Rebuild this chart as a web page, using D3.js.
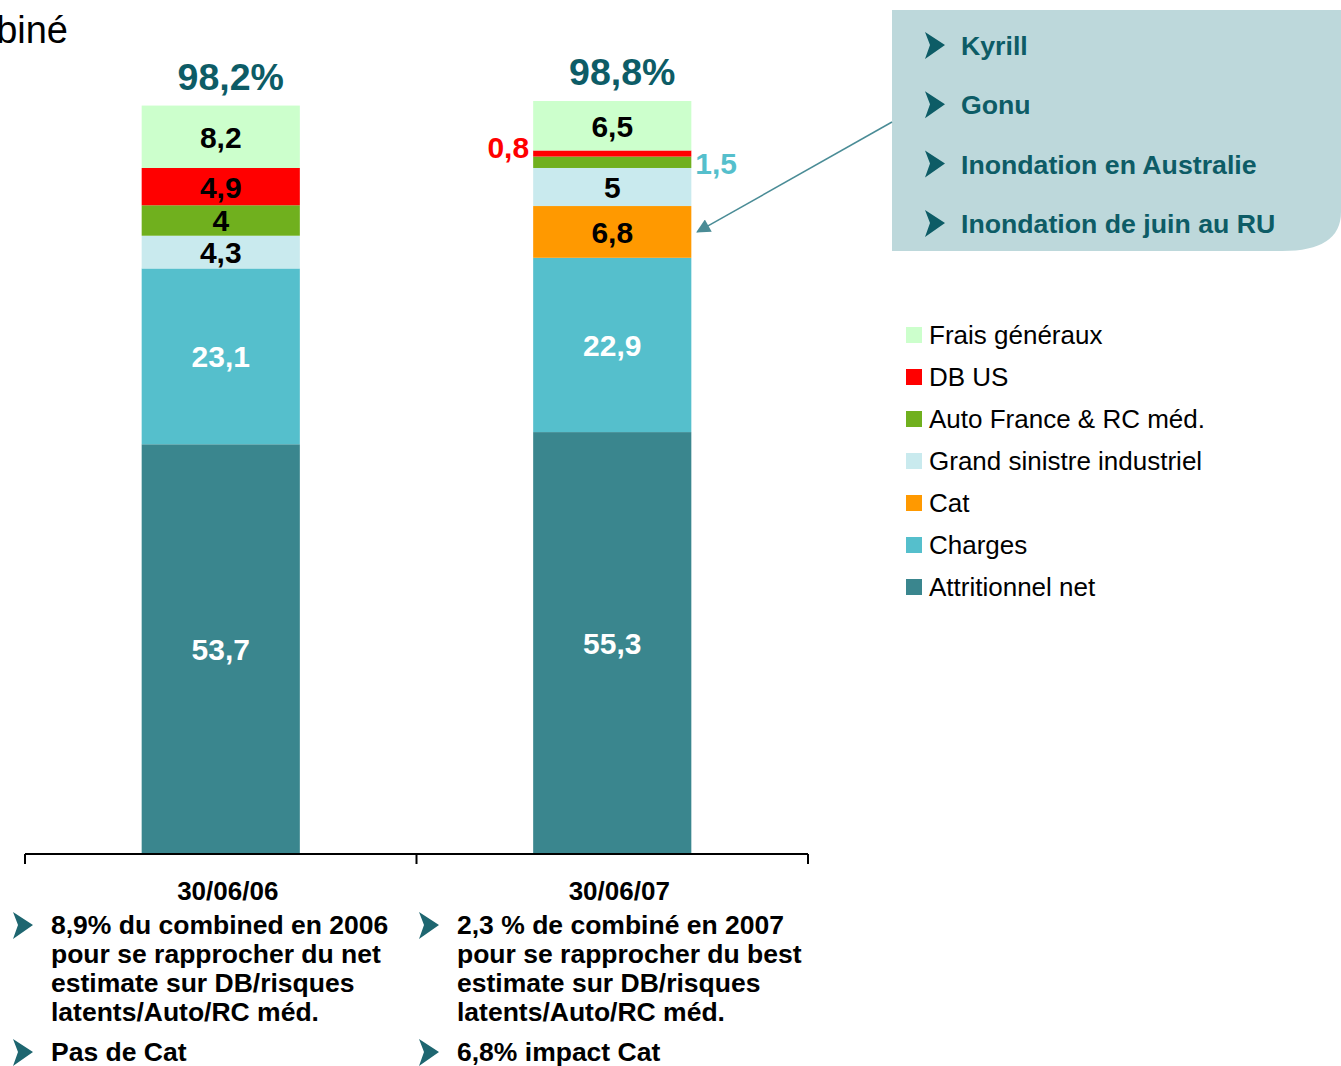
<!DOCTYPE html>
<html>
<head>
<meta charset="utf-8">
<script src="https://cdn.jsdelivr.net/npm/d3@7"></script>
<style>
  body { margin: 0; background: #fff; }
  svg { display: block; font-family: Arial, 'Liberation Sans', sans-serif; }
</style>
</head>
<body>
<div class="chart"></div>
<script>
const width = 1341,
	height = 1066

// data
const categories = ['30/06/06', '30/06/07']
const series = ['Attritionnel net', 'Charges', 'Cat', 'Grand sinistre industriel', 'Auto France & RC méd.', 'DB US', 'Frais généraux']
const values2006 = [53.7, 23.1, 0, 4.3, 4, 4.9, 8.2]
const values2007 = [55.3, 22.9, 6.8, 5, 1.5, 0.8, 6.5]
const totals = ['98,2%', '98,8%']
const catEvents = ['Kyrill', 'Gonu', 'Inondation en Australie', 'Inondation de juin au RU']
const notes2006 = [['8,9% du combined en 2006', 'pour se rapprocher du net', 'estimate sur DB/risques', 'latents/Auto/RC méd.'], ['Pas de Cat']]
const notes2007 = [['2,3 % de combiné en 2007', 'pour se rapprocher du best', 'estimate sur DB/risques', 'latents/Auto/RC méd.'], ['6,8% impact Cat']]

const colors = ['#3a868e', '#55bfcc', '#ff9900', '#c9eaee', '#70b01e', '#ff0000', '#ccffcc']
const labelColors = ['#fff', '#fff', '#000', '#000', '#000', '#000', '#000']
const teal = '#0d5c66'

const rows = categories.map((c, i) => {
	const vals = i === 0 ? values2006 : values2007
	const row = { cat: c }
	series.forEach((s, j) => (row[s] = vals[j]))
	return row
})
const stacked = d3.stack().keys(series)(rows)

const svg = d3.select('.chart').append('svg').attr('width', width).attr('height', height)

const x = d3.scaleBand().domain(categories).range([25, 808]).paddingInner(0.596).paddingOuter(0.298)
const y = d3.scaleLinear().domain([0, 98.8]).range([853, 101])

// title fragment (cut at the left edge)
svg.append('text')
	.attr('x', 68)
	.attr('y', 43)
	.attr('text-anchor', 'end')
	.style('font-size', '38px')
	.style('fill', '#000')
	.text('biné')

// bars
const layer = svg.selectAll('g.layer')
	.data(stacked)
	.enter()
	.append('g')
	.attr('class', 'layer')
	.attr('fill', (d, i) => colors[i])

layer.selectAll('rect')
	.data(d => d)
	.enter()
	.append('rect')
	.attr('x', d => x(d.data.cat))
	.attr('y', d => y(d[1]))
	.attr('width', x.bandwidth())
	.attr('height', d => y(d[0]) - y(d[1]))

// segment labels
stacked.forEach((s, i) => {
	s.forEach(d => {
		const v = d.data[s.key]
		if (v === 0) return
		const txt = String(v).replace('.', ',')
		const mid = (y(d[0]) + y(d[1])) / 2
		if (v >= 2) {
			svg.append('text')
				.attr('x', x(d.data.cat) + x.bandwidth() / 2)
				.attr('y', mid + 11)
				.attr('text-anchor', 'middle')
				.style('font-size', '30px')
				.style('font-weight', 'bold')
				.style('fill', labelColors[i])
				.text(txt)
		} else {
			// small segments labelled beside the bar
			const left = s.key === 'DB US'
			svg.append('text')
				.attr('x', left ? x(d.data.cat) - 4 : x(d.data.cat) + x.bandwidth() + 4)
				.attr('y', left ? mid + 4 : mid + 12)
				.attr('text-anchor', left ? 'end' : 'start')
				.style('font-size', '30px')
				.style('font-weight', 'bold')
				.style('fill', left ? '#ff0000' : '#55bfcc')
				.text(txt)
		}
	})
})

// totals
rows.forEach((r, i) => {
	const top = stacked[stacked.length - 1][i][1]
	svg.append('text')
		.attr('x', x(r.cat) + x.bandwidth() / 2 + 10)
		.attr('y', y(top) - 16)
		.attr('text-anchor', 'middle')
		.style('font-size', '37.5px')
		.style('font-weight', 'bold')
		.style('fill', teal)
		.text(totals[i])
})

// axis
const axisY = y(0) + 1
const axis = svg.append('g').attr('stroke', '#000').attr('stroke-width', 2)
axis.append('line').attr('x1', x.range()[0]).attr('x2', x.range()[1]).attr('y1', axisY).attr('y2', axisY)
d3.range(categories.length + 1).forEach(k => {
	const tx = x.range()[0] + k * x.step()
	axis.append('line').attr('x1', tx).attr('x2', tx).attr('y1', axisY).attr('y2', axisY + 10)
})

svg.selectAll('text.cat')
	.data(categories)
	.enter()
	.append('text')
	.attr('class', 'cat')
	.attr('x', d => x(d) + x.bandwidth() / 2 + 7)
	.attr('y', 900)
	.attr('text-anchor', 'middle')
	.style('font-size', '26px')
	.style('font-weight', 'bold')
	.text(d => d)

// bullet arrow glyph
const bullet = (g, bx, by, fill) => {
	g.append('path')
		.attr('d', `M${bx},${by} L${bx + 20},${by + 13} L${bx},${by + 27} L${bx + 5},${by + 13} Z`)
		.attr('fill', fill)
}

// notes under the bars
const noteX = [51, 457]
;[notes2006, notes2007].forEach((notes, i) => {
	let base = 934
	notes.forEach((lines, k) => {
		if (k > 0) base += 11
		bullet(svg, noteX[i] - 38, base - 22, '#1e6670')
		lines.forEach(l => {
			svg.append('text')
				.attr('x', noteX[i])
				.attr('y', base)
				.style('font-size', '26.5px')
				.style('font-weight', 'bold')
				.text(l)
			base += 29
		})
	})
})

// callout box with cat events
svg.append('path')
	.attr('d', 'M892,10 H1341 V212 Q1341,251 1282,251 H892 Z')
	.attr('fill', '#bdd8db')

catEvents.forEach((e, i) => {
	const by = 55 + i * 59.3
	bullet(svg, 925, by - 23, teal)
	svg.append('text')
		.attr('x', 961)
		.attr('y', by)
		.style('font-size', '26.7px')
		.style('font-weight', 'bold')
		.style('fill', teal)
		.text(e)
})

// arrow from callout to Cat segment
svg.append('defs').append('marker')
	.attr('id', 'head')
	.attr('viewBox', '0 0 10 10')
	.attr('refX', 9)
	.attr('refY', 5)
	.attr('markerWidth', 18)
	.attr('markerHeight', 14)
	.attr('markerUnits', 'userSpaceOnUse')
	.attr('orient', 'auto')
	.append('path')
	.attr('d', 'M0,0 L10,5 L0,10 Z')
	.attr('fill', '#4a8c96')

const catSeg = stacked[2][1]
svg.append('line')
	.attr('x1', 892)
	.attr('y1', 122)
	.attr('x2', x(categories[1]) + x.bandwidth() + 6)
	.attr('y2', (y(catSeg[0]) + y(catSeg[1])) / 2)
	.attr('stroke', '#4a8c96')
	.attr('stroke-width', 1.5)
	.attr('marker-end', 'url(#head)')

// legend (top of stack first)
const legend = svg.append('g')
series.slice().reverse().forEach((s, i) => {
	const ly = 335 + i * 42
	legend.append('rect')
		.attr('x', 906)
		.attr('y', ly - 8)
		.attr('width', 16)
		.attr('height', 16)
		.attr('fill', colors[series.length - 1 - i])
	legend.append('text')
		.attr('x', 929)
		.attr('y', ly + 9)
		.style('font-size', '26px')
		.style('fill', '#000')
		.text(s)
})
</script>
</body>
</html>
